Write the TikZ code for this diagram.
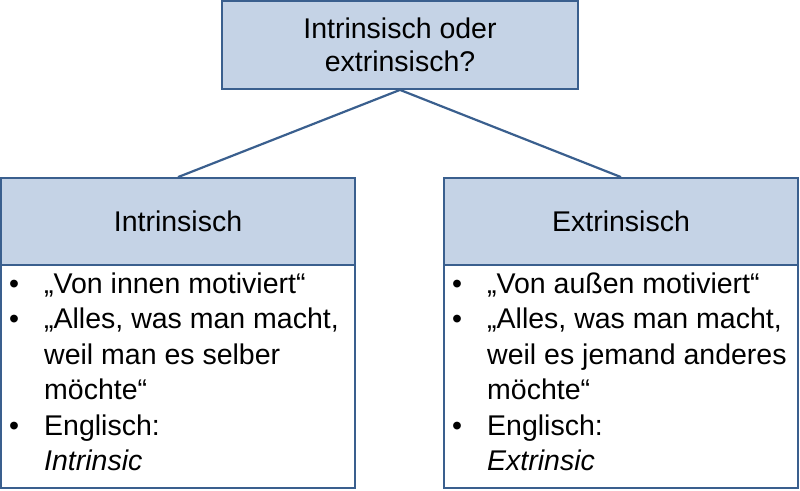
\documentclass[tikz,border=0pt]{standalone}
\usepackage{fontspec}
\setmainfont{Liberation Sans}
\definecolor{boxfill}{HTML}{C5D3E6}
\definecolor{boxline}{HTML}{3A5F8E}
\begin{document}
\begin{tikzpicture}[x=1pt,y=-1pt,
  boxbase/.style={draw=boxline,line width=1.8pt,rectangle,inner sep=0pt},
  headbox/.style={boxbase,fill=boxfill,minimum width=354pt,minimum height=87pt,font=\fontsize{28.5}{32.5}\selectfont},
  bodybox/.style={boxbase,fill=white,minimum width=354pt,minimum height=223pt},
  bodytext/.style={inner sep=0pt,anchor=north west,align=left,font=\fontsize{28.5}{35.4}\selectfont},
  link/.style={draw=boxline,line width=2.2pt}]
\useasboundingbox (0,0) rectangle (800,490);
\node[headbox,minimum width=356pt,minimum height=88pt,align=center] (top) at (400,45) {Intrinsisch oder\\extrinsisch?};
\node[headbox] (lh) at (178,221.5) {Intrinsisch};
\node[bodybox] (lb) at (178,376.5) {};
\node[headbox] (rh) at (621,221.5) {Extrinsisch};
\node[bodybox] (rb) at (621,376.5) {};
\draw[link] (top.south) -- (lh.north);
\draw[link] (top.south) -- (rh.north);
\newcommand{\bul}{\makebox[36pt][l]{\hspace{1pt}\textbullet}}
\newcommand{\ind}{\hspace{36pt}}
\node[bodytext] (lt) at (8,272.6) {\bul„Von innen motiviert“\\
\bul„Alles, was man macht,\\
\ind weil man es selber\\
\ind möchte“\\
\bul Englisch:\\
\ind\textit{Intrinsic}};
\node[bodytext] (rt) at (451,272.6) {\bul„Von außen motiviert“\\
\bul„Alles, was man macht,\\
\ind weil es jemand anderes\\
\ind möchte“\\
\bul Englisch:\\
\ind\textit{Extrinsic}};
\end{tikzpicture}
\end{document}
